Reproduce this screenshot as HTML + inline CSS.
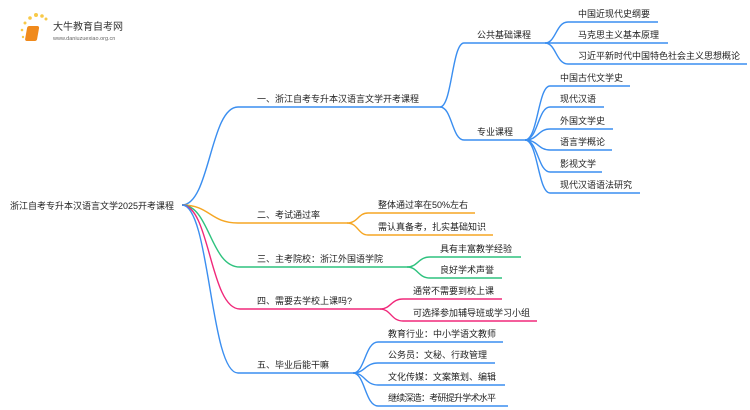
<!DOCTYPE html>
<html><head><meta charset="utf-8"><style>
html,body{margin:0;padding:0;background:#fff;width:750px;height:410px;overflow:hidden}
text{font-family:"Liberation Sans","Noto Sans CJK SC",sans-serif;font-size:9px;fill:#222}
path{fill:none;stroke-width:1.4}
</style></head><body>
<svg width="750" height="410" viewBox="0 0 750 410" xmlns="http://www.w3.org/2000/svg">
<g>
<circle cx="25" cy="23" r="1.5" fill="#f7c948"/><circle cx="30" cy="18" r="1.8" fill="#f7c948"/><circle cx="36" cy="15" r="2" fill="#f7c948"/><circle cx="42" cy="16" r="1.8" fill="#f7c948"/><circle cx="46" cy="19" r="1.5" fill="#f7c948"/><circle cx="22" cy="30" r="1.3" fill="#f7c948"/><circle cx="23" cy="37" r="1.2" fill="#f7c948"/>
<rect x="32" y="26" width="12" height="15" rx="2" fill="#f08a1c" transform="skewX(-10)"/>
<text x="53" y="30" style="font-size:10px;fill:#333">大牛教育自考网</text>
<text x="53" y="40" style="font-size:5.5px;fill:#666">www.daniuzuexiao.org.cn</text>
</g>
<text x="10" y="209" textLength="164">浙江自考专升本汉语言文学2025开考课程</text>
<g stroke="#3a8ef0">
<path d="M182 205 C210 205 210 107 238 107 L440 107"/>
<path d="M440 107 C452 107 452 43 464 43 L545 43"/>
<path d="M440 107 C452 107 452 140 464 140 L525 140"/>
<path d="M545 43 C556 43 556 22 568 22 L658 22"/>
<path d="M545 43 L668 43"/>
<path d="M545 43 C556 43 556 64 568 64 L747 64"/>
<path d="M525 140 C538 140 538 86 550 86 L630 86"/>
<path d="M525 140 C538 140 538 107 550 107 L604 107"/>
<path d="M525 140 C538 140 538 129 550 129 L613 129"/>
<path d="M525 140 C538 140 538 150 550 150 L612 150"/>
<path d="M525 140 C538 140 538 172 550 172 L602 172"/>
<path d="M525 140 C538 140 538 193 550 193 L640 193"/>
</g>
<text x="257" y="102" textLength="162">一、浙江自考专升本汉语言文学开考课程</text>
<text x="477" y="38" textLength="54">公共基础课程</text>
<text x="477" y="135" textLength="36">专业课程</text>
<text x="578" y="17" textLength="72">中国近现代史纲要</text>
<text x="578" y="38" textLength="81">马克思主义基本原理</text>
<text x="578" y="59" textLength="162">习近平新时代中国特色社会主义思想概论</text>
<text x="560" y="81" textLength="63">中国古代文学史</text>
<text x="560" y="102" textLength="36">现代汉语</text>
<text x="560" y="124" textLength="45">外国文学史</text>
<text x="560" y="145" textLength="45">语言学概论</text>
<text x="560" y="167" textLength="36">影视文学</text>
<text x="560" y="188" textLength="72">现代汉语语法研究</text>
<g stroke="#f5a623">
<path d="M182 205 C210 205 210 223 238 223 L347 223"/>
<path d="M347 223 C358 223 358 213 368 213 L475 213"/>
<path d="M347 223 C358 223 358 235 368 235 L493 235"/>
</g>
<text x="257" y="218" textLength="63">二、考试通过率</text>
<text x="378" y="208" textLength="90">整体通过率在50%左右</text>
<text x="378" y="230" textLength="108">需认真备考，扎实基础知识</text>
<g stroke="#2ec27e">
<path d="M182 205 C210 205 210 267 240 267 L407 267"/>
<path d="M407 267 C418 267 418 257 430 257 L521 257"/>
<path d="M407 267 C418 267 418 278 430 278 L502 278"/>
</g>
<text x="257" y="262" textLength="126">三、主考院校：浙江外国语学院</text>
<text x="440" y="252" textLength="72">具有丰富教学经验</text>
<text x="440" y="273" textLength="54">良好学术声誉</text>
<g stroke="#f0287a">
<path d="M182 205 C210 205 210 309 240 309 L380 309"/>
<path d="M380 309 C391 309 391 299 403 299 L502 299"/>
<path d="M380 309 C391 309 391 321 403 321 L537 321"/>
</g>
<text x="257" y="304" textLength="95">四、需要去学校上课吗?</text>
<text x="413" y="294" textLength="81">通常不需要到校上课</text>
<text x="413" y="316" textLength="117">可选择参加辅导班或学习小组</text>
<g stroke="#3a8ef0">
<path d="M182 205 C210 205 210 373 238 373 L353 373"/>
<path d="M353 373 C365 373 365 342 378 342 L503 342"/>
<path d="M353 373 C365 373 365 363 378 363 L495 363"/>
<path d="M353 373 C365 373 365 385 378 385 L505 385"/>
<path d="M353 373 C365 373 365 406 378 406 L508 406"/>
</g>
<text x="257" y="368" textLength="72">五、毕业后能干嘛</text>
<text x="388" y="337" textLength="108">教育行业：中小学语文教师</text>
<text x="388" y="358" textLength="99">公务员：文秘、行政管理</text>
<text x="388" y="380" textLength="108">文化传媒：文案策划、编辑</text>
<text x="388" y="401" textLength="108">继续深造：考研提升学术水平</text>
</svg>
</body></html>
